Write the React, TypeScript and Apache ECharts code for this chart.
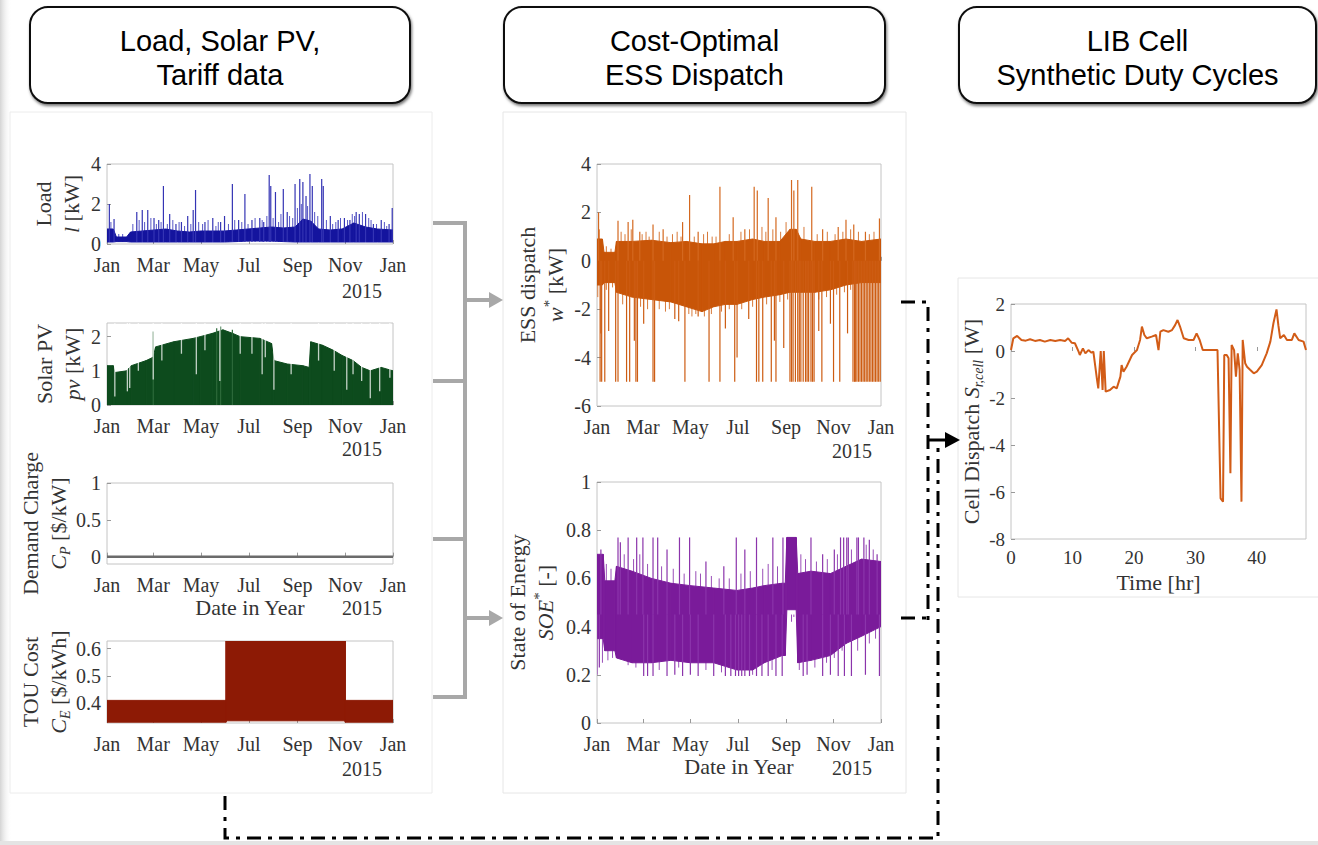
import React, { useEffect, useRef } from 'react';
import * as echarts from 'echarts';

const SERIF = '"Liberation Serif", "Times New Roman", serif';
const SANS = '"Liberation Sans", Arial, sans-serif';

// ---- shared time axis (day of year) ----
const monthTicks = [0, 59, 120, 181, 243, 304, 365];
const monthNames = ['Jan', 'Mar', 'May', 'Jul', 'Sep', 'Nov', 'Jan'];

// ---- Load l [kW] ----
const loadDays = [0, 8, 12, 25, 30, 45, 60, 75, 90, 105, 120, 135, 150, 165, 180, 195, 210, 225, 240, 250, 260, 270, 285, 300, 315, 330, 345, 365];
const loadHi = [0.75, 0.75, 0.35, 0.35, 0.6, 0.65, 0.7, 0.75, 0.65, 0.6, 0.65, 0.65, 0.65, 0.7, 0.75, 0.8, 0.85, 0.8, 0.85, 1.25, 1.15, 0.75, 0.7, 0.75, 1.05, 0.85, 0.75, 0.7];
const loadLo = [0.1, 0.1, 0.12, 0.12, 0.1, 0.1, 0.1, 0.1, 0.1, 0.1, 0.1, 0.1, 0.1, 0.12, 0.15, 0.15, 0.15, 0.12, 0.1, 0.1, 0.1, 0.1, 0.1, 0.1, 0.1, 0.1, 0.1, 0.1];
const loadSpikeDays = [3, 9, 38, 45, 52, 60, 66, 72, 80, 88, 95, 103, 110, 113, 125, 135, 145, 150, 160, 168, 176, 185, 195, 200, 207, 209, 215, 225, 230, 240, 246, 250, 254, 259, 262, 274, 276, 285, 295, 303, 310, 318, 322, 330, 340, 350, 360, 364];
const loadSpikeVals = [2.0, 1.25, 1.6, 1.7, 1.7, 1.3, 1.2, 2.9, 1.5, 1.0, 1.1, 1.4, 1.7, 2.7, 1.1, 1.3, 1.1, 1.4, 3.0, 1.2, 2.5, 1.2, 1.3, 1.1, 3.45, 2.9, 2.6, 2.75, 1.6, 3.0, 3.25, 3.1, 2.4, 3.5, 2.9, 3.25, 2.9, 1.4, 1.2, 1.3, 1.2, 1.6, 1.5, 1.5, 1.0, 1.2, 1.0, 1.8];
const loadMinorDays = [5, 15, 20, 33, 41, 48, 56, 63, 69, 77, 84, 92, 99, 107, 117, 122, 129, 139, 142, 155, 163, 172, 180, 189, 198, 204, 212, 219, 222, 233, 237, 243, 248, 256, 265, 269, 280, 288, 292, 298, 307, 313, 316, 326, 334, 337, 344, 354, 357];
const loadMinorVals = [1.1, 0.5, 0.5, 1.0, 1.2, 1.1, 1.3, 1.0, 1.1, 1.0, 1.2, 1.1, 0.9, 1.0, 1.1, 1.0, 1.2, 0.9, 1.1, 1.0, 1.2, 1.1, 1.0, 1.3, 1.2, 1.4, 1.3, 1.1, 1.5, 1.4, 1.3, 1.8, 2.0, 1.9, 1.6, 1.4, 1.2, 1.0, 1.1, 1.3, 1.2, 1.5, 1.4, 1.6, 1.3, 1.2, 1.0, 1.1, 0.9];

// ---- Solar PV pv [kW] ----
const solarDays = [0, 8, 10, 25, 31, 50, 59, 62, 85, 110, 119, 135, 148, 160, 170, 195, 210, 213, 230, 250, 258, 260, 275, 289, 300, 314, 325, 336, 350, 365];
const solarHi = [1.15, 1.15, 0.95, 1.0, 1.15, 1.3, 1.4, 1.7, 1.85, 1.95, 2.0, 2.1, 2.2, 2.1, 2.0, 1.95, 1.8, 1.3, 1.2, 1.15, 1.1, 1.85, 1.75, 1.6, 1.45, 1.3, 1.1, 1.0, 1.1, 1.0];
const solarDipDays = [10, 26, 29, 40, 59, 70, 95, 114, 125, 144, 170, 185, 198, 202, 213, 235, 270, 290, 306, 314, 325, 336, 348, 361];
const solarDipVals = [0.25, 0.4, 0.5, 1.0, 0.75, 1.3, 1.5, 0.9, 1.6, 0.7, 1.5, 1.5, 0.9, 1.4, 0.45, 0.9, 1.3, 1.0, 0.45, 0.9, 0.7, 0.2, 0.4, 0.8];
const solarPeakDays = [59, 140, 145, 160];
const solarPeakVals = [2.15, 2.25, 2.3, 2.2];

// ---- Demand charge C_P [$/kW] ----
const demandDays = [0, 365];
const demandVals = [0, 0];

// ---- TOU cost C_E [$/kWh] ----
const touDays = [0, 152, 152, 304, 304, 365];
const touLo = [0.33, 0.33, 0.335, 0.335, 0.33, 0.33];
const touHi = [0.41, 0.41, 0.628, 0.628, 0.41, 0.41];

// ---- ESS dispatch w* [kW] ----
const essDays = [0, 7, 9, 23, 25, 45, 70, 95, 115, 135, 150, 165, 180, 200, 215, 235, 248, 256, 262, 280, 300, 320, 340, 365];
const essHi = [0.9, 0.9, 0.35, 0.35, 0.8, 0.8, 0.85, 0.75, 0.8, 0.7, 0.7, 0.8, 0.8, 0.9, 0.8, 0.8, 1.3, 1.3, 0.9, 0.8, 0.8, 0.9, 0.8, 0.9];
const essLo = [-1.0, -1.0, -0.9, -0.9, -1.3, -1.5, -1.6, -1.7, -1.9, -2.1, -1.9, -1.8, -1.8, -1.6, -1.5, -1.4, -1.3, -1.3, -1.3, -1.3, -1.2, -1.0, -0.9, -0.9];
const essUpDays = [2, 27, 40, 46, 55, 72, 85, 110, 119, 130, 158, 175, 190, 202, 206, 220, 230, 250, 253, 258, 276, 290, 310, 320, 330, 345, 363];
const essUpVals = [2.0, 1.65, 1.6, 1.7, 1.2, 1.5, 1.3, 1.6, 2.72, 1.2, 3.06, 1.8, 1.3, 3.06, 2.9, 2.6, 1.8, 3.34, 2.9, 3.34, 3.06, 1.3, 1.4, 1.7, 1.5, 1.2, 1.75];
const essMinorUpDays = [3, 12, 18, 31, 36, 44, 58, 63, 67, 80, 90, 97, 103, 108, 125, 137, 142, 148, 153, 170, 185, 196, 212, 217, 226, 236, 243, 266, 283, 296, 306, 316, 326, 336, 350, 356];
const essMinorUpVals = [1.3, 0.6, 0.5, 1.2, 1.1, 1.3, 1.1, 1.2, 1.0, 1.2, 1.0, 1.1, 1.2, 1.0, 1.0, 1.1, 1.2, 1.0, 1.0, 1.1, 1.2, 1.3, 1.4, 1.2, 1.3, 1.2, 1.6, 1.4, 1.1, 1.2, 1.1, 1.2, 1.3, 1.2, 1.1, 1.2];
const essDownDays = [4, 5, 6, 10, 15, 24, 27, 38, 42, 48, 50, 52, 60, 72, 74, 100, 105, 113, 130, 144, 158, 165, 177, 180, 195, 205, 208, 213, 224, 228, 230, 240, 248, 250, 252, 255, 258, 260, 262, 265, 268, 270, 272, 275, 277, 279, 285, 289, 300, 304, 312, 322, 329, 331, 332, 334, 336, 338, 340, 342, 344, 346, 348, 350, 352, 354, 356, 358, 360, 362, 364];
const essDownVals = [-5, -3.0, -5, -5, -2.9, -5, -5, -5, -5, -3.3, -5, -5, -2.6, -5, -5, -2.4, -2.5, -5, -2.3, -5, -5, -2.8, -5, -4.0, -2.4, -5, -5, -5, -5, -3.3, -5, -3.6, -5, -5, -5, -5, -5, -5, -5, -5, -5, -5, -5, -5, -5, -5, -2.9, -5, -2.6, -5, -5, -3.0, -5, -5, -5, -5, -5, -5, -5, -5, -5, -5, -5, -5, -5, -5, -5, -5, -5, -5, -5];
const essMinorDownDays = [1, 12, 20, 33, 56, 65, 80, 88, 93, 118, 122, 127, 138, 147, 160, 170, 186, 200, 218, 235, 245, 285, 295, 308, 318, 326];
const essMinorDownVals = [-1.5, -1.2, -1.1, -1.8, -1.9, -2.0, -2.0, -2.1, -2.0, -2.2, -2.3, -2.2, -2.3, -2.2, -2.1, -2.0, -2.0, -1.9, -1.8, -1.7, -1.6, -1.6, -1.5, -1.4, -1.3, -1.2];

// ---- State of energy SOE* [-] ----
const soeDays = [0, 8, 10, 23, 25, 45, 70, 95, 120, 150, 180, 200, 215, 238, 242, 244, 256, 258, 275, 300, 320, 340, 365];
const soeHi = [0.7, 0.7, 0.59, 0.59, 0.65, 0.63, 0.6, 0.58, 0.57, 0.56, 0.55, 0.56, 0.57, 0.58, 0.58, 0.77, 0.77, 0.62, 0.63, 0.62, 0.65, 0.68, 0.67];
const soeLo = [0.35, 0.35, 0.3, 0.3, 0.27, 0.25, 0.25, 0.26, 0.25, 0.25, 0.22, 0.22, 0.25, 0.28, 0.28, 0.47, 0.47, 0.25, 0.26, 0.28, 0.33, 0.36, 0.4];
const soeUpDays = [5, 27, 30, 40, 51, 59, 72, 78, 90, 106, 119, 140, 163, 179, 190, 205, 226, 239, 275, 290, 305, 313, 317, 321, 323, 334, 336, 343, 350, 360];
const soeUpVals = [0.72, 0.77, 0.75, 0.77, 0.77, 0.77, 0.77, 0.77, 0.72, 0.77, 0.77, 0.67, 0.65, 0.77, 0.72, 0.77, 0.77, 0.77, 0.77, 0.7, 0.72, 0.77, 0.77, 0.77, 0.77, 0.77, 0.77, 0.77, 0.76, 0.7];
const soeMinorUpDays = [12, 18, 35, 47, 55, 65, 83, 98, 112, 127, 133, 147, 157, 170, 185, 197, 213, 220, 232, 262, 268, 282, 296, 309, 327, 346, 355];
const soeMinorUpVals = [0.66, 0.64, 0.7, 0.68, 0.7, 0.66, 0.65, 0.64, 0.62, 0.63, 0.62, 0.61, 0.6, 0.6, 0.62, 0.63, 0.64, 0.66, 0.65, 0.7, 0.68, 0.67, 0.68, 0.7, 0.72, 0.74, 0.72];
const soeDownDays = [0, 3, 60, 65, 72, 90, 100, 110, 120, 130, 150, 165, 172, 178, 182, 186, 190, 196, 205, 212, 220, 230, 238, 265, 270, 290, 300, 310, 318, 327, 345, 363];
const soeDownVals = [0.2, 0.23, 0.195, 0.195, 0.195, 0.195, 0.2, 0.195, 0.2, 0.195, 0.195, 0.195, 0.195, 0.195, 0.195, 0.195, 0.195, 0.195, 0.195, 0.195, 0.195, 0.195, 0.195, 0.195, 0.2, 0.195, 0.2, 0.195, 0.195, 0.195, 0.2, 0.195];
const soeMinorDownDays = [7, 14, 20, 33, 40, 50, 80, 105, 140, 160, 200, 225, 250, 253, 260, 280, 295, 305, 315, 335, 350, 358];
const soeMinorDownVals = [0.25, 0.26, 0.27, 0.3, 0.24, 0.23, 0.22, 0.23, 0.22, 0.21, 0.2, 0.22, 0.42, 0.44, 0.22, 0.23, 0.25, 0.27, 0.3, 0.3, 0.33, 0.35];

// ---- Cell dispatch S_r,cell [W] vs time [hr] ----
const cellHours = [0, 0.38, 1.0, 1.7, 2.4, 3.1, 3.9, 4.7, 5.5, 6.4, 7.2, 8.0, 8.8, 9.3, 9.9, 10.4, 11.0, 11.2, 11.7, 12.1, 12.6, 13.1, 13.4, 14.0, 14.2, 14.6, 14.9, 15.1, 15.4, 16.1, 16.7, 17.2, 17.8, 18.0, 18.3, 18.8, 19.7, 20.5, 21.0, 21.3, 21.7, 22.1, 22.9, 23.6, 24.0, 24.3, 24.8, 25.6, 26.2, 26.7, 27.1, 27.5, 28.1, 28.9, 29.7, 30.2, 30.7, 31.2, 31.8, 33.6, 34.1, 34.5, 34.7, 35.1, 35.4, 35.7, 35.9, 36.3, 36.6, 36.9, 37.2, 37.5, 37.7, 38.1, 38.4, 38.9, 39.5, 40.0, 40.8, 41.6, 42.2, 42.7, 43.2, 43.5, 43.8, 44.4, 44.9, 45.7, 46.1, 46.8, 47.6, 48.0];
const cellVals = [0.04, 0.54, 0.64, 0.47, 0.44, 0.5, 0.43, 0.47, 0.4, 0.47, 0.43, 0.47, 0.43, 0.54, 0.35, 0.33, -0.03, -0.17, 0.11, -0.1, 0.04, -0.07, -0.03, -1.23, -1.59, 0, -1.66, 0, -1.73, -1.66, -1.52, -1.59, -1.09, -0.6, -0.88, -0.67, -0.17, 0.04, 0.47, 1.04, 0.68, 0.54, 0.61, 0.68, 0.04, 0.82, 0.89, 0.82, 0.89, 1.1, 1.32, 1.04, 0.54, 0.47, 0.47, 0.75, 0.47, 0.04, 0.04, 0.04, -6.27, -6.41, -0.17, -0.17, -0.31, -5.2, 0.26, 0.04, -1.09, -0.1, -0.8, -6.41, 0.47, -0.52, -0.67, -0.8, -0.95, -0.88, -0.6, -0.1, 0.4, 1.18, 1.77, 1.1, 0.54, 0.68, 0.47, 0.47, 0.75, 0.47, 0.4, 0.04];

const cellXTicks = [0, 10, 20, 30, 40];

// ---------- helpers ----------
const nameStyle = (size = 22) => ({
  fontFamily: SERIF, fontSize: size, color: '#333', lineHeight: 28,
  rich: {
    it: { fontFamily: SERIF, fontSize: size, fontStyle: 'italic', color: '#333', lineHeight: 28 },
    sub: { fontFamily: SERIF, fontSize: 14, fontStyle: 'italic', color: '#333', lineHeight: 12, verticalAlign: 'bottom' },
    sup: { fontFamily: SERIF, fontSize: 15, color: '#333', lineHeight: 12, verticalAlign: 'top' },
  },
});

function xDays(gi: number, name?: string) {
  return {
    type: 'value', gridIndex: gi, min: 0, max: 365,
    axisLine: { show: false }, splitLine: { show: false },
    axisTick: { show: true, inside: true, length: 4, customValues: monthTicks, lineStyle: { color: '#999' } },
    axisLabel: {
      customValues: monthTicks, color: '#333', fontFamily: SERIF, fontSize: 20, margin: 11,
      formatter: (v: number) => { const i = monthTicks.indexOf(Math.round(v)); return i >= 0 ? monthNames[i] : ''; },
    },
    name: name || '', nameLocation: 'middle', nameGap: 32,
    nameTextStyle: { fontFamily: SERIF, fontSize: 22, color: '#333' },
  };
}

function yAx(gi: number, min: number, max: number, labels: number[], name: string, gap: number, size = 20) {
  return {
    type: 'value', gridIndex: gi, min, max,
    axisLine: { show: false }, splitLine: { show: false },
    axisTick: { show: true, inside: true, length: 4, customValues: labels, lineStyle: { color: '#999' } },
    axisLabel: { customValues: labels, color: '#333', fontFamily: SERIF, fontSize: size, margin: 6 },
    name, nameLocation: 'middle', nameRotate: 90, nameGap: gap, nameTextStyle: nameStyle(),
  };
}

function band(gi: number, days: number[], lo: number[], hi: number[], color: string) {
  const data = days.slice(0, -1).map((d, i) => [d, days[i + 1], lo[i], hi[i], lo[i + 1], hi[i + 1]]);
  return {
    type: 'custom', xAxisIndex: gi, yAxisIndex: gi, clip: true, silent: true, data,
    encode: { x: [0, 1], y: [2, 3, 4, 5] },
    renderItem: (_p: any, api: any) => {
      const a = api.coord([api.value(0), api.value(3)]);
      const b = api.coord([api.value(1), api.value(5)]);
      const c = api.coord([api.value(1), api.value(4)]);
      const d = api.coord([api.value(0), api.value(2)]);
      return { type: 'polygon', shape: { points: [a, b, c, d] }, style: { fill: color, stroke: color, lineWidth: 1 } };
    },
  };
}

function spikes(gi: number, days: number[], base: number, vals: number[], color: string, width = 1.2) {
  const data = days.map((d, i) => [d, base, vals[i]]);
  return {
    type: 'custom', xAxisIndex: gi, yAxisIndex: gi, clip: true, silent: true, data,
    encode: { x: 0, y: [1, 2] },
    renderItem: (_p: any, api: any) => {
      const s = api.coord([api.value(0), api.value(1)]);
      const e = api.coord([api.value(0), api.value(2)]);
      return { type: 'line', shape: { x1: s[0], y1: s[1], x2: e[0], y2: e[1] }, style: { stroke: color, lineWidth: width } };
    },
  };
}

const gridBox = (left: number, top: number, width: number, height: number) => ({
  left, top, width, height, show: true, borderColor: '#c4c4c4', borderWidth: 1, backgroundColor: 'transparent',
});

const headerBox = (x: number, w: number, text: string) => [
  {
    type: 'rect', z: 5, shape: { x, y: 7, width: w, height: 96, r: 18 },
    style: { fill: '#fff', stroke: '#111', lineWidth: 2, shadowBlur: 3, shadowOffsetY: 2, shadowOffsetX: 1, shadowColor: 'rgba(0,0,0,0.55)' },
  },
  {
    type: 'text', z: 6,
    style: { text, x: x + w / 2, y: 58, textAlign: 'center', textVerticalAlign: 'middle', fontFamily: SANS, fontSize: 29, lineHeight: 34, fill: '#000' },
  },
];

const yearText = (x: number, y: number) => ({
  type: 'text', z: 6, style: { text: '2015', x, y, textAlign: 'center', textVerticalAlign: 'middle', fontFamily: SERIF, fontSize: 20, fill: '#333' },
});

const GRAY = '#a8a8a8';
const DASH = [14, 7, 4, 7];

export default function App() {
  const ref = useRef<HTMLDivElement>(null);
  useEffect(() => {
    const chart = echarts.init(ref.current!, null, { renderer: 'svg' });
    const option: any = {
      animation: false,
      backgroundColor: '#ffffff',
      grid: [
        gridBox(107, 164, 286, 80),
        gridBox(107, 323, 286, 82),
        gridBox(107, 483, 286, 81),
        gridBox(107, 641, 286, 82),
        gridBox(597, 164, 284, 242),
        gridBox(597, 482, 284, 241),
        gridBox(1011, 304, 295, 235),
      ],
      xAxis: [
        xDays(0), xDays(1), xDays(2, 'Date in Year'), xDays(3), xDays(4), xDays(5, 'Date in Year'),
        {
          type: 'value', gridIndex: 6, min: 0, max: 48,
          axisLine: { show: false }, splitLine: { show: false },
          axisTick: { show: true, inside: true, length: 4, customValues: cellXTicks, lineStyle: { color: '#999' } },
          axisLabel: { customValues: cellXTicks, color: '#333', fontFamily: SERIF, fontSize: 19, margin: 9 },
          name: 'Time [hr]', nameLocation: 'middle', nameGap: 32,
          nameTextStyle: { fontFamily: SERIF, fontSize: 22, color: '#333' },
        },
      ],
      yAxis: [
        yAx(0, 0, 4, [0, 2, 4], 'Load\n{it|l} [kW]', 22),
        yAx(1, 0, 2.4, [0, 1, 2], 'Solar PV\n{it|pv} [kW]', 21),
        yAx(2, -0.1, 1, [0, 0.5, 1], 'Demand Charge\n{it|C}{sub|P} [$/kW]', 32),
        yAx(3, 0.327, 0.628, [0.4, 0.5, 0.6], 'TOU Cost\n{it|C}{sub|E} [$/kWh]', 34),
        yAx(4, -6, 4, [-6, -4, -2, 0, 2, 4], 'ESS dispatch\n{it|w}{sup|*} [kW]', 28),
        yAx(5, 0, 1, [0, 0.2, 0.4, 0.6, 0.8, 1], 'State of Energy\n{it|SOE}{sup|*} [-]', 38),
        yAx(6, -8, 2, [-8, -6, -4, -2, 0, 2], 'Cell Dispatch {it|S}{sub|r,cell} [W]', 26, 19),
      ],
      series: [
        spikes(0, loadMinorDays, 0.1, loadMinorVals, '#5656c6', 1),
        band(0, loadDays, loadLo, loadHi, '#14149e'),
        spikes(0, loadSpikeDays, 0.1, loadSpikeVals, '#3434b4'),
        band(1, solarDays, solarDays.map(() => 0), solarHi, '#0d4b1d'),
        spikes(1, solarPeakDays, 0, solarPeakVals, '#2d6a3a'),
        spikes(1, solarDipDays, 2.4, solarDipVals, 'rgba(255,255,255,0.75)', 1.3),
        {
          type: 'line', xAxisIndex: 2, yAxisIndex: 2, showSymbol: false, silent: true,
          data: demandDays.map((d, i) => [d, demandVals[i]]), lineStyle: { color: '#6b6b6b', width: 2.5 },
        },
        band(3, touDays, touLo, touHi, '#8d1a05'),
        spikes(4, essMinorUpDays, 0, essMinorUpVals, '#d87a3a', 1),
        spikes(4, essMinorDownDays, 0, essMinorDownVals, '#d87a3a', 1),
        band(4, essDays, essLo, essHi, '#c85508'),
        spikes(4, essUpDays, 0, essUpVals, '#d4681f'),
        spikes(4, essDownDays, 0, essDownVals, '#cd5c12'),
        spikes(5, soeMinorUpDays, 0.45, soeMinorUpVals, '#9a4fb8', 1),
        spikes(5, soeMinorDownDays, 0.45, soeMinorDownVals, '#9a4fb8', 1),
        band(5, soeDays, soeLo, soeHi, '#7a1b9a'),
        spikes(5, soeUpDays, 0.45, soeUpVals, '#8b34ab'),
        spikes(5, soeDownDays, 0.45, soeDownVals, '#8b34ab'),
        {
          type: 'line', xAxisIndex: 6, yAxisIndex: 6, showSymbol: false, silent: true,
          data: cellHours.map((h, i) => [h, cellVals[i]]), lineStyle: { color: '#d25c17', width: 2 },
        },
      ],
      graphic: [
        // left shading
        {
          type: 'rect', z: -20, shape: { x: 0, y: 0, width: 12, height: 845 },
          style: { fill: { type: 'linear', x: 0, y: 0, x2: 1, y2: 0, colorStops: [{ offset: 0, color: '#d4d4d4' }, { offset: 1, color: 'rgba(255,255,255,0)' }] } },
        },
        // panels
        { type: 'rect', z: -10, shape: { x: 10, y: 112, width: 422, height: 681 }, style: { fill: '#fff', stroke: '#ececec', lineWidth: 1 } },
        { type: 'rect', z: -10, shape: { x: 503, y: 112, width: 403, height: 681 }, style: { fill: '#fff', stroke: '#e6e6e6', lineWidth: 1 } },
        { type: 'rect', z: -10, shape: { x: 958, y: 278, width: 362, height: 319 }, style: { fill: '#fff', stroke: '#e6e6e6', lineWidth: 1 } },
        { type: 'rect', z: -10, shape: { x: 0, y: 841, width: 1318, height: 4 }, style: { fill: '#e4e4e4' } },
        // headers
        ...headerBox(30, 380, 'Load, Solar PV,\nTariff data'),
        ...headerBox(504, 381, 'Cost-Optimal\nESS Dispatch'),
        ...headerBox(959, 357, 'LIB Cell\nSynthetic Duty Cycles'),
        // 2015 year labels
        yearText(362, 291), yearText(362, 449), yearText(362, 608), yearText(362, 769),
        yearText(852, 451), yearText(852, 768),
        // gray bracket
        { type: 'line', z: 8, shape: { x1: 433, y1: 223, x2: 465, y2: 223 }, style: { stroke: GRAY, lineWidth: 4 } },
        { type: 'line', z: 8, shape: { x1: 433, y1: 381, x2: 465, y2: 381 }, style: { stroke: GRAY, lineWidth: 4 } },
        { type: 'line', z: 8, shape: { x1: 433, y1: 539, x2: 465, y2: 539 }, style: { stroke: GRAY, lineWidth: 4 } },
        { type: 'line', z: 8, shape: { x1: 433, y1: 697, x2: 467, y2: 697 }, style: { stroke: GRAY, lineWidth: 4 } },
        { type: 'line', z: 8, shape: { x1: 465, y1: 221, x2: 465, y2: 699 }, style: { stroke: GRAY, lineWidth: 4 } },
        { type: 'line', z: 8, shape: { x1: 465, y1: 300, x2: 490, y2: 300 }, style: { stroke: GRAY, lineWidth: 4 } },
        { type: 'polygon', z: 8, shape: { points: [[489, 292], [503, 300], [489, 308]] }, style: { fill: GRAY } },
        { type: 'line', z: 8, shape: { x1: 465, y1: 618, x2: 490, y2: 618 }, style: { stroke: GRAY, lineWidth: 4 } },
        { type: 'polygon', z: 8, shape: { points: [[489, 610], [503, 618], [489, 626]] }, style: { fill: GRAY } },
        // black dash-dot connectors
        { type: 'polyline', z: 8, shape: { points: [[901, 302], [928, 302], [928, 622]] }, style: { stroke: '#000', lineWidth: 3, lineDash: DASH, fill: null } },
        { type: 'polyline', z: 8, shape: { points: [[901, 618], [928, 618]] }, style: { stroke: '#000', lineWidth: 3, lineDash: DASH, fill: null } },
        { type: 'polyline', z: 8, shape: { points: [[225, 796], [225, 838], [938, 838], [938, 444]] }, style: { stroke: '#000', lineWidth: 3, lineDash: DASH, fill: null } },
        { type: 'line', z: 8, shape: { x1: 928, y1: 440, x2: 948, y2: 440 }, style: { stroke: '#000', lineWidth: 3 } },
        { type: 'polygon', z: 8, shape: { points: [[945, 432], [960, 440], [945, 448]] }, style: { fill: '#000' } },
      ],
    };
    chart.setOption(option);
    return () => chart.dispose();
  }, []);
  return <div ref={ref} style={{ position: 'fixed', left: 0, top: 0, width: 1318, height: 845 }} />;
}
